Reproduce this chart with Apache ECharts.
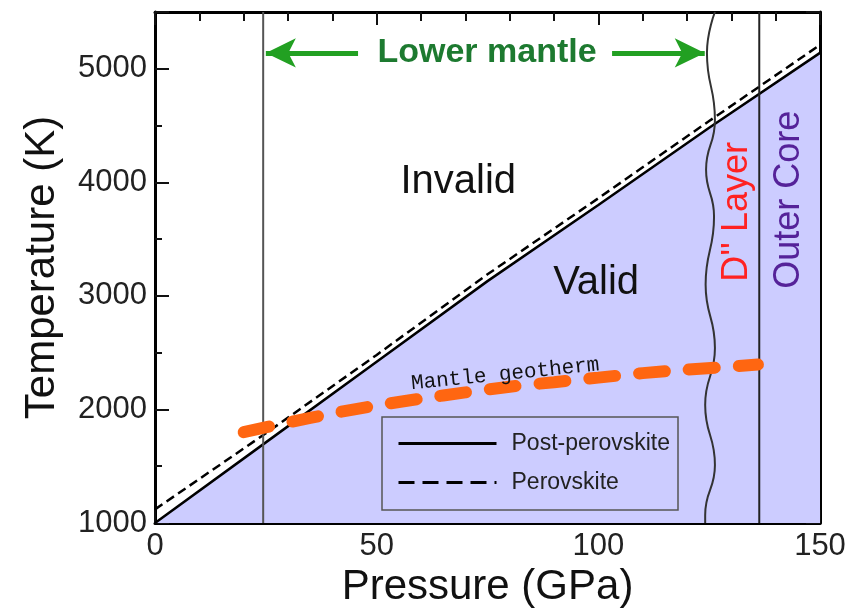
<!DOCTYPE html>
<html>
<head>
<meta charset="utf-8">
<script src="https://cdn.jsdelivr.net/npm/echarts@6/dist/echarts.min.js"></script>
<style>
    html, body {margin: 0; padding: 0; background: #fff;}
    #chartPhase {width: 849px; height: 614px;}
</style>
</head>
<body>
<div id="chartPhase"></div>
<script>
// pressure (GPa) / temperature (K) pairs
var postPerovskite = [[0, 1000], [25, 1710], [50, 2420], [75, 3130], [100, 3800], [125, 4480], [150, 5140]];
var perovskite = [[0, 1120], [25, 1790], [50, 2480], [75, 3190], [100, 3860], [125, 4540], [150, 5210]];
var geotherm = [[20, 1800], [30, 1885], [40, 1965], [50, 2035], [60, 2095], [70, 2150], [80, 2200],
    [90, 2240], [100, 2280], [110, 2320], [120, 2350], [136, 2395]];
var upperBoundary = [[24.4, 1000], [24.4, 5500]];
var coreBoundary = [[136.3, 1000], [136.3, 5500]];
var dLayerBoundary = [[126.3, 5500], [124.5, 5140], [126.3, 4550], [124.3, 4110], [126.1, 3700],
    [124.2, 3100], [126.3, 2540], [124.1, 2040], [126.3, 1510], [124.1, 1070], [124.1, 1000]];
var mantleArrows = [[[45.8, 5140], [25.0, 5140]], [[103.1, 5140], [124.0, 5140]]];

var legendNames = ['Post-perovskite', 'Perovskite'];
var labels = {
    invalid: {text: 'Invalid', at: [68.4, 4000]},
    valid: {text: 'Valid', at: [99.5, 3115]},
    lowerMantle: {text: 'Lower mantle', at: [74.9, 5141]},
    dLayer: {text: 'D\'\' Layer', at: [131.3, 3740]},
    outerCore: {text: 'Outer Core', at: [143.0, 3846]},
    geotherm: {text: 'Mantle geotherm', at: [79, 2310]}
};

var fontSans = 'Liberation Sans, Arial, sans-serif';
var axisLine = {show: true, onZero: false, lineStyle: {color: '#000', width: 3}};

function xAxisCfg(pos, showLabel) {
    return {
        type: 'value', position: pos, min: 0, max: 150, interval: 50,
        axisLine: axisLine,
        axisTick: {inside: true, length: 13, lineStyle: {color: '#111', width: 2}},
        minorTick: {show: true, splitNumber: 5, length: 9, lineStyle: {color: '#111', width: 2}},
        axisLabel: {show: showLabel, fontSize: 31, color: '#222', fontFamily: fontSans, margin: 8},
        splitLine: {show: false},
        name: showLabel ? 'Pressure (GPa)' : '',
        nameLocation: 'middle', nameGap: 34,
        nameTextStyle: {fontSize: 42, color: '#111', fontFamily: fontSans}
    };
}
function yAxisCfg(pos, showLabel) {
    return {
        type: 'value', position: pos, min: 1000, max: 5500, interval: 1000,
        axisLine: axisLine,
        axisTick: {inside: true, length: 14, lineStyle: {color: '#111', width: 2}},
        minorTick: {show: true, splitNumber: 2, length: 7, lineStyle: {color: '#111', width: 2}},
        axisLabel: {
            show: showLabel, fontSize: 31, color: '#222', fontFamily: fontSans, margin: 8, showMaxLabel: false,
            formatter: function (v) { return String(v); }
        },
        splitLine: {show: false},
        name: showLabel ? 'Temperature (K)' : '',
        nameLocation: 'middle', nameGap: 92, nameRotate: 90,
        nameTextStyle: {fontSize: 42, color: '#111', fontFamily: fontSans}
    };
}

var option = {
    animation: false,
    grid: {left: 155, right: 29, top: 12, bottom: 91},
    xAxis: [xAxisCfg('bottom', true), xAxisCfg('top', false)],
    yAxis: [yAxisCfg('left', true), yAxisCfg('right', false)],
    legend: {
        left: 382, top: 417,
        orient: 'vertical',
        itemWidth: 98, itemHeight: 24, itemGap: 16, itemTextGap: 16,
        padding: [15, 8, 16, 15],
        borderColor: '#555', borderWidth: 1.5,
        textStyle: {fontSize: 23, color: '#222', fontFamily: fontSans, padding: [0, 0, 0, 10]},
        itemStyle: {color: 'rgba(0,0,0,0)', borderWidth: 0, opacity: 0},
        data: [
            {name: legendNames[0], lineStyle: {width: 3, type: 'solid'}},
            {name: legendNames[1], lineStyle: {width: 3, type: [16, 8]}}
        ]
    },
    series: [
        {
            name: legendNames[0], type: 'line', data: postPerovskite, symbol: 'none', z: 3,
            lineStyle: {color: '#000', width: 2.5},
            itemStyle: {color: '#000'},
            areaStyle: {color: '#ccccff', opacity: 1, origin: 'start'}
        },
        {
            name: legendNames[1], type: 'line', data: perovskite, symbol: 'none', z: 4,
            lineStyle: {color: '#000', width: 2.5, type: [9, 5]},
            itemStyle: {color: '#000'}
        },
        {
            type: 'line', data: upperBoundary, symbol: 'none', z: 5, silent: true,
            lineStyle: {color: '#555', width: 2}
        },
        {
            type: 'line', data: coreBoundary, symbol: 'none', z: 5, silent: true,
            lineStyle: {color: '#222', width: 2}
        },
        {
            type: 'line', data: dLayerBoundary, symbol: 'none', z: 5, smooth: 0.5, silent: true,
            lineStyle: {color: '#333', width: 2}
        },
        {
            type: 'line', data: geotherm, symbol: 'none', z: 6, smooth: 0.3, silent: true,
            lineStyle: {color: '#ff6611', width: 12, type: [26, 24], cap: 'round'}
        },
        {
            type: 'line', data: [], z: 7, silent: true,
            markLine: {
                silent: true, symbol: ['none', 'arrow'], symbolSize: [22, 30],
                label: {show: false},
                lineStyle: {color: '#22a022', width: 5, type: 'solid'},
                data: mantleArrows.map(function (a) {
                    return [{coord: a[0]}, {coord: a[1]}];
                })
            }
        }
    ]
};

var chartPhase = echarts.init(document.getElementById('chartPhase'));
chartPhase.setOption(option);

function txt(key, size, color, extra) {
    var p = chartPhase.convertToPixel({xAxisIndex: 0, yAxisIndex: 0}, labels[key].at);
    return {
        type: 'text', x: p[0], y: p[1], z: 100,
        rotation: extra.rotation || 0,
        style: {
            text: labels[key].text, fill: color,
            font: (extra.weight || 'normal') + ' ' + size + 'px ' + (extra.family || fontSans),
            align: 'center', verticalAlign: 'middle'
        }
    };
}

chartPhase.setOption({
    graphic: [
        txt('invalid', 40, '#111', {}),
        txt('valid', 40, '#111', {}),
        txt('lowerMantle', 34, '#1d7a30', {weight: 'bold'}),
        txt('dLayer', 36, '#ff2222', {rotation: Math.PI / 2}),
        txt('outerCore', 36, '#552299', {rotation: Math.PI / 2}),
        txt('geotherm', 21, '#111', {rotation: 0.1, family: 'Liberation Mono, monospace'})
    ]
});
</script>
</body>
</html>
